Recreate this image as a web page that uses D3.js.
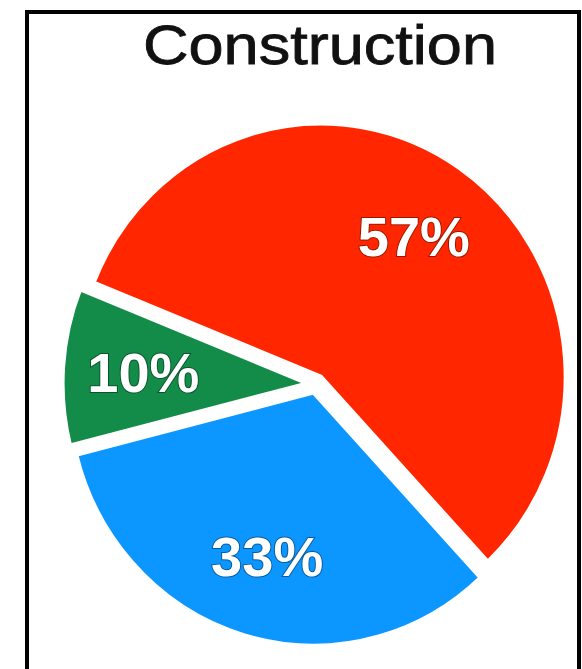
<!DOCTYPE html>
<html>
<head>
<meta charset="utf-8">
<script src="https://cdn.jsdelivr.net/npm/d3@7"></script>
<style>
  body { margin: 0; background: #fff; }
  text { font-family: "Liberation Sans", Arial, Helvetica, sans-serif; }
</style>
</head>
<body>
<script>
// chart data
const title = "Construction";
const slices = ["Blue", "Green", "Red"];
const values = [33, 10, 57];
const colors = ["#0c96ff", "#128c48", "#ff2600"];

const W = 582, H = 669;
const svg = d3.select("body").append("svg")
  .attr("width", W)
  .attr("height", H);

svg.append("rect").attr("width", W).attr("height", H).attr("fill", "#fff");

// frame (bottom edge runs off the picture)
svg.append("rect")
  .attr("x", 27).attr("y", 12)
  .attr("width", 552).attr("height", 700)
  .attr("fill", "none")
  .attr("stroke", "#000")
  .attr("stroke-width", 4);

svg.append("text")
  .attr("x", 320).attr("y", 64)
  .attr("text-anchor", "middle")
  .attr("font-size", 55)
  .attr("textLength", 354)
  .attr("lengthAdjust", "spacingAndGlyphs")
  .attr("fill", "#111")
  .attr("stroke", "#111")
  .attr("stroke-width", 0.8)
  .text(title);

// pie settings
const cx = 316, cy = 384;
const R = 253, sx = 0.967;
const explode = 9, labelR = 170;
const start = 137 * Math.PI / 180;

const pie = d3.pie()
  .sort(null)
  .value(d => d)
  .startAngle(start)
  .endAngle(start + 2 * Math.PI);
const arcs = pie(values);
const arc = d3.arc().innerRadius(0).outerRadius(R);

const g = svg.append("g").attr("transform", `translate(${cx},${cy})`);

const mid = d => (d.startAngle + d.endAngle) / 2;

g.selectAll("path")
  .data(arcs)
  .join("path")
  .attr("transform", d => {
    const m = mid(d);
    return `scale(${sx},1) translate(${explode * Math.sin(m)},${-explode * Math.cos(m)})`;
  })
  .attr("d", arc)
  .attr("fill", (d, i) => colors[i])
  .attr("stroke", "#fff")
  .attr("stroke-width", 4)
  .attr("stroke-linejoin", "round");

g.selectAll("text.lbl")
  .data(arcs)
  .join("text")
  .attr("class", "lbl")
  .attr("x", d => sx * (explode + labelR) * Math.sin(mid(d)))
  .attr("y", d => -(explode + labelR) * Math.cos(mid(d)))
  .attr("dy", "0.36em")
  .attr("text-anchor", "middle")
  .attr("font-size", 56)
  .attr("font-weight", "bold")
  .attr("fill", "#fff")
  .attr("stroke", "rgba(0,0,0,0.4)")
  .attr("stroke-width", 2)
  .attr("paint-order", "stroke")
  .text(d => d.data + "%");
</script>
</body>
</html>
